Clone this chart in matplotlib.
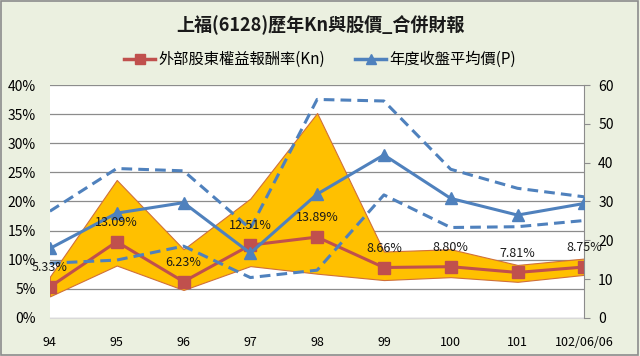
import matplotlib.pyplot as plt
from matplotlib.patches import Rectangle
from matplotlib.ticker import FuncFormatter, MultipleLocator

plt.rcParams['font.family'] = ['Noto Sans CJK TC', 'DejaVu Sans']

years = ['94', '95', '96', '97', '98', '99', '100', '101', '102/06/06']
kn = [5.33, 13.09, 6.23, 12.51, 13.89, 8.66, 8.80, 7.81, 8.75]
kn_high = [7.1, 23.7, 11.8, 20.5, 35.2, 11.4, 11.8, 9.1, 10.2]
kn_low = [3.7, 9.0, 4.8, 8.9, 7.6, 6.5, 7.0, 6.2, 7.4]
price = [17.9, 27.0, 29.7, 16.7, 31.9, 42.0, 30.8, 26.5, 29.5]
price_high = [27.5, 38.5, 37.9, 23.0, 56.3, 55.9, 38.3, 33.4, 31.2]
price_low = [14.1, 14.9, 18.5, 10.4, 12.3, 31.7, 23.3, 23.5, 25.1]

red = '#C0504D'
blue = '#4F81BD'
bg = '#EBF0E0'

fig = plt.figure(figsize=(6.4, 3.56), dpi=100)
fig.patch.set_facecolor(bg)
fig.patches.append(Rectangle((0.002, 0.003), 0.995, 0.993, transform=fig.transFigure,
                             fill=False, edgecolor='#8c8c8c', linewidth=1.2))

ax = fig.add_axes([0.078, 0.107, 0.835, 0.654])
x = list(range(len(years)))

ax.fill_between(x, kn_low, kn_high, facecolor='#FFC000', edgecolor='#D0703A', linewidth=0.8, zorder=2)
ax.plot(x, kn, color=red, lw=2.2, marker='s', ms=8, zorder=3)

ax.set_xlim(0, len(years) - 1)
ax.set_ylim(0, 40)
ax.yaxis.set_major_locator(MultipleLocator(5))
ax.yaxis.set_major_formatter(FuncFormatter(lambda v, p: '%d%%' % v))
ax.grid(axis='y', color='#8c8c8c', lw=0.9, zorder=0)
ax.set_axisbelow(True)
ax.set_xticks(x)
ax.set_xticklabels(years, fontsize=9)
ax.tick_params(axis='x', length=0, pad=13)
ax.tick_params(axis='y', length=0, labelsize=10, pad=10)
for s in ['top', 'left', 'right']:
    ax.spines[s].set_visible(False)
ax.spines['bottom'].set_color('#d9d9d9')

ax2 = ax.twinx()
ax2.plot(x, price_high, color=blue, lw=2.2, ls=(0, (3.5, 2)), zorder=3)
ax2.plot(x, price_low, color=blue, lw=2.2, ls=(0, (3.5, 2)), zorder=3)
ax2.plot(x, price, color=blue, lw=2.2, marker='^', ms=8, zorder=4)
ax2.set_ylim(0, 60)
ax2.yaxis.set_major_locator(MultipleLocator(10))
ax2.tick_params(axis='y', length=4, color='#8c8c8c', labelsize=10, pad=6)
for s in ['top', 'left', 'bottom']:
    ax2.spines[s].set_visible(False)
ax2.spines['right'].set_color('#8c8c8c')

# Kn data labels on top of everything, positioned in the left-axis scale
for i, v in enumerate(kn):
    ax2.annotate('%.2f%%' % v, (i, v), xycoords=ax.transData, xytext=(0, 14),
                 textcoords='offset points', ha='center', va='center',
                 fontsize=9, color='#1a1a1a', zorder=6)

fig.text(0.5, 0.93, '上福(6128)歷年Kn與股價_合併財報', ha='center', va='center',
         fontsize=13, fontweight='bold', color='#1a1a1a')

h1, = ax.plot([], [], color=red, lw=2.5, marker='s', ms=7)
h2, = ax.plot([], [], color=blue, lw=2.5, marker='^', ms=7)
fig.legend([h1, h2], ['外部股東權益報酬率(Kn)', '年度收盤平均價(P)'], loc='center',
           bbox_to_anchor=(0.5, 0.832), ncol=2, frameon=False, fontsize=11,
           handlelength=2.0, columnspacing=2.0, handletextpad=0.2)

fig.savefig('out.png', dpi=100, facecolor=bg)
